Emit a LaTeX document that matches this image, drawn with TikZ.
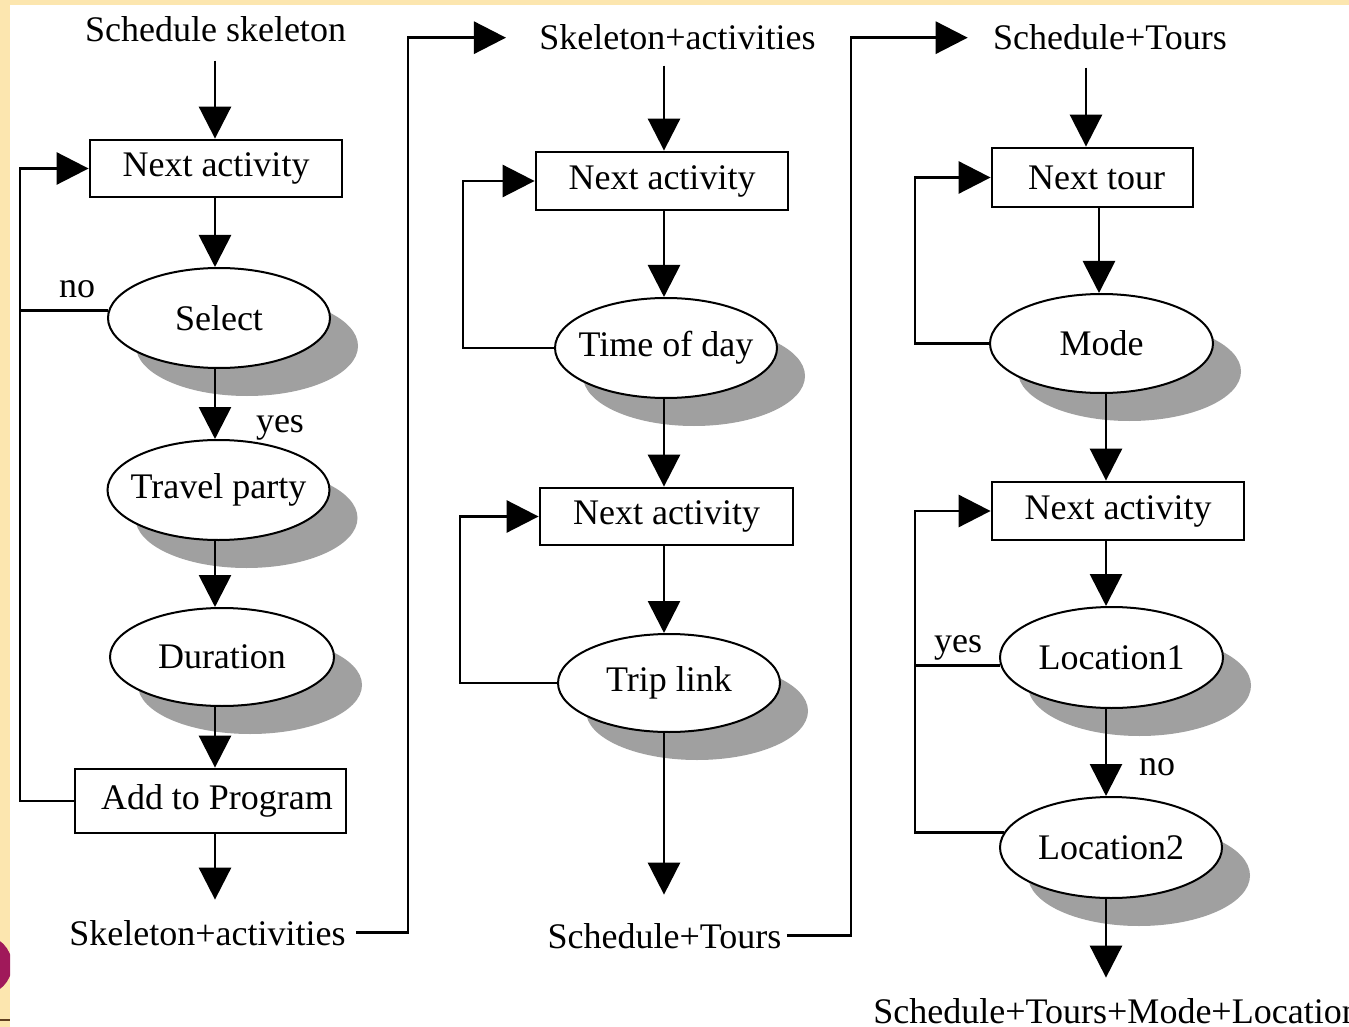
\documentclass[tikz,border=0pt]{standalone}
\usepackage{fontspec}
\setmainfont{Liberation Serif}
\usetikzlibrary{arrows.meta,shapes.geometric,shadows}
\definecolor{bandyellow}{RGB}{252,230,175}
\definecolor{shgray}{RGB}{160,160,160}
\definecolor{logomaroon}{RGB}{160,25,90}
\begin{document}
\begin{tikzpicture}[x=0.5pt,y=-0.5pt,
  every node/.style={font=\fontsize{18}{21}\selectfont},
  txt/.style={inner sep=0pt, anchor=base},
  boxn/.style={draw, line width=1.4pt, rectangle, inner sep=0pt, fill=white},
  elln/.style={draw, line width=1pt, ellipse, inner sep=0pt, fill=white,
    minimum width=111pt, minimum height=50pt,
    general shadow={fill=shgray, draw=none, shadow xshift=14pt, shadow yshift=-14pt}},
  conn/.style={line width=1.4pt},
  arr/.style={conn, -{Triangle[length=16pt,width=16pt]}},
]
\useasboundingbox (0,0) rectangle (1349,1027);
\clip (0,0) rectangle (1349,1027);
% background
\fill[white] (0,0) rectangle (1349,1027);
\fill[bandyellow] (0,0) rectangle (1349,5);
\fill[bandyellow] (0,0) rectangle (10,1027);
\begin{scope}
  \clip (0,925) rectangle (10,1012);
  \fill[logomaroon] (-18,965) circle[radius=30];
\end{scope}
\draw[brown!50!black, line width=0.8pt] (0,1020) -- (10,1020);

% column helper coordinates
\coordinate (k1) at (215,0);
\coordinate (k2) at (664,0);
\coordinate (k3a) at (1086,0);
\coordinate (k3b) at (1099,0);
\coordinate (k3c) at (1106,0);
\coordinate (L1) at (20,0);
\coordinate (L2a) at (463,0);
\coordinate (L2b) at (460,0);
\coordinate (L3) at (915,0);
\coordinate (X1) at (408,0);
\coordinate (X2) at (851,0);

% ---------- column 1 ----------
\node[txt] (t0) at (215.5,42) {Schedule skeleton};
\node[boxn, minimum width=126pt, minimum height=28.5pt] (b1) at (216,168.5) {Next activity};
\node[elln] (sel) at (219,318) {\makebox[0pt]{Select}};
\node[elln] (tp) at (218.5,490) {\makebox[0pt]{Travel party}};
\node[elln, minimum width=112pt, minimum height=49pt] (dur) at (222,657) {\makebox[0pt]{Duration}};
\node[boxn, minimum width=135.5pt, minimum height=32pt] (add) at (210.5,801) {\makebox[0pt]{\hspace{6.5pt}Add to Program}};
\node[txt] (t1) at (207.5,945) {Skeleton+activities};
\node[txt] (no1) at (77,298) {no};
\node[txt] (yes1) at (280,432) {yes};

% ---------- column 2 ----------
\node[txt] (t2) at (677.5,50) {Skeleton+activities};
\node[boxn, minimum width=126pt, minimum height=29pt] (b2) at (662,181) {Next activity};
\node[elln] (tod) at (666,348) {\makebox[0pt]{Time of day}};
\node[boxn, minimum width=126.5pt, minimum height=28.5pt] (b3) at (666.5,516.5) {Next activity};
\node[elln, minimum height=49pt] (trip) at (669,683) {\makebox[0pt]{Trip link}};
\node[txt] (t3) at (664.5,948) {Schedule+Tours};

% ---------- column 3 ----------
\node[txt] (t4) at (1110,50) {Schedule+Tours};
\node[boxn, minimum width=100.5pt, minimum height=29.5pt] (tour) at (1092.5,177.5) {\makebox[0pt]{\hspace{4pt}Next tour}};
\node[elln, minimum width=111.5pt, minimum height=49.5pt] (mode) at (1101.5,343.5) {\makebox[0pt]{Mode}};
\node[boxn, minimum width=126pt, minimum height=29pt] (b4) at (1118,511) {Next activity};
\node[elln, minimum width=111.5pt, minimum height=50.5pt] (loc1) at (1111.5,657.5) {\makebox[0pt]{Location1}};
\node[elln, minimum width=111pt, minimum height=50.5pt] (loc2) at (1111,847.5) {\makebox[0pt]{Location2}};
\node[txt, anchor=base west] (t5) at (873,1023) {Schedule+Tours+Mode+Location};
\node[txt] (yes2) at (958,652) {yes};
\node[txt] (no2) at (1157,775) {no};

% ---------- connectors column 1 ----------
\draw[arr, shorten <=9pt] (t0.south -| k1) -- (b1.north -| k1);
\draw[arr] (b1.south -| k1) -- (sel.north -| k1);
\draw[arr] (sel.south -| k1) -- (tp.north -| k1);
\draw[arr] (tp.south -| k1) -- (dur.north -| k1);
\draw[arr] (dur.south -| k1) -- (add.north -| k1);
\draw[arr, shorten >=10pt] (add.south -| k1) -- (t1.north -| k1);
\draw[conn] (sel.176) -- (sel.176 -| L1);
\draw[arr] (add.west) -- (add.west -| L1) -- (b1.west -| L1) -- (b1.west);

% ---------- connectors column 2 ----------
\draw[arr, shorten <=5pt, shorten >=16.5pt] (t1.east) -- (t1.east -| X1) -- (t2.west -| X1) -- (t2.west);
\draw[arr, shorten <=7.5pt] (t2.south -| k2) -- (b2.north -| k2);
\draw[arr] (b2.south -| k2) -- (tod.north -| k2);
\draw[arr] (tod.south -| k2) -- (b3.north -| k2);
\draw[arr] (b3.south -| k2) -- (trip.north -| k2);
\draw[arr, shorten >=14pt] (trip.south -| k2) -- (t3.north -| k2);
\draw[arr] (tod.west) -- (tod.west -| L2a) -- (b2.west -| L2a) -- (b2.west);
\draw[arr] (trip.west) -- (trip.west -| L2b) -- (b3.west -| L2b) -- (b3.west);

% ---------- connectors column 3 ----------
\draw[arr, shorten <=2.5pt, shorten >=12.5pt] (t3.east) -- (t3.east -| X2) -- (t4.west -| X2) -- (t4.west);
\draw[arr, shorten <=8.5pt] (t4.south -| k3a) -- (tour.north -| k3a);
\draw[arr] (tour.south -| k3b) -- (mode.north -| k3b);
\draw[arr] (mode.south -| k3c) -- (b4.north -| k3c);
\draw[arr] (b4.south -| k3c) -- (loc1.north -| k3c);
\draw[arr] (loc1.south -| k3c) -- (loc2.north -| k3c);
\draw[arr, shorten >=10pt] (loc2.south -| k3c) -- (t5.north -| k3c);
\draw[arr] (mode.west) -- (mode.west -| L3) -- (tour.west -| L3) -- (tour.west);
\draw[conn] (loc1.184) -- (loc1.184 -| L3);
\draw[arr] (loc2.172) -- (loc2.172 -| L3) -- (b4.west -| L3) -- (b4.west);
\end{tikzpicture}
\end{document}
